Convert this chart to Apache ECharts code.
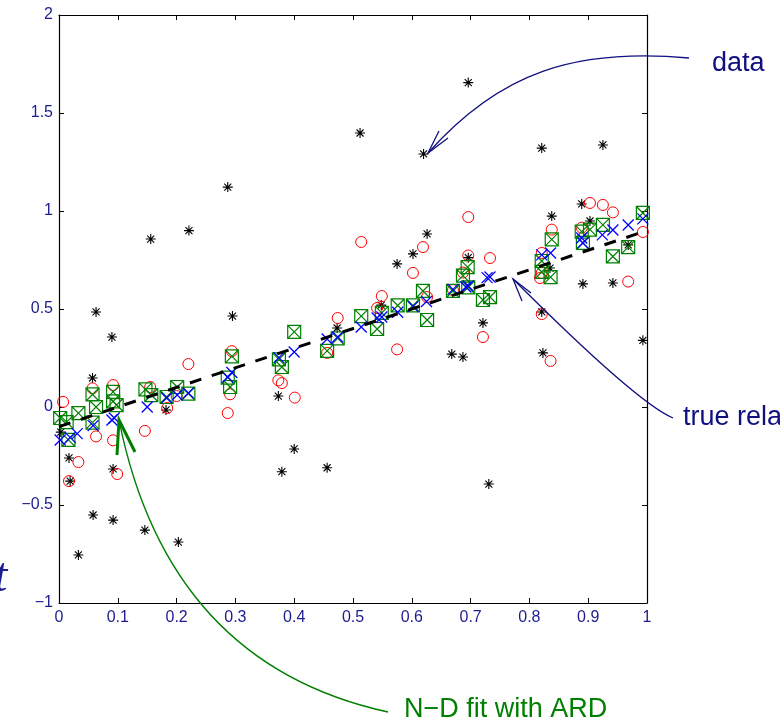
<!DOCTYPE html>
<html>
<head>
<meta charset="utf-8">
<script src="https://cdn.jsdelivr.net/npm/echarts@6/dist/echarts.min.js"></script>
<style>
  html, body { margin: 0; padding: 0; background: #fff; }
  #chart { width: 780px; height: 723px; }
</style>
</head>
<body>
<div id="chart"></div>
<script>
// Observed targets (black asterisks)
const observed = [
  [0.003,-0.128],[0.017,-0.260],[0.019,-0.378],[0.033,-0.755],[0.057,0.148],[0.058,-0.551],
  [0.063,0.485],[0.090,0.357],[0.092,-0.316],[0.092,-0.577],[0.146,-0.628],[0.156,0.857],
  [0.182,-0.015],[0.203,-0.689],[0.221,0.900],[0.287,1.122],[0.295,0.464],[0.373,0.056],
  [0.379,-0.330],[0.400,-0.214],[0.456,-0.310],[0.473,0.403],[0.512,1.398],[0.548,0.520],
  [0.575,0.730],[0.602,0.781],[0.620,1.291],[0.626,0.883],[0.668,0.270],[0.687,0.255],
  [0.696,0.762],[0.696,1.655],[0.721,0.429],[0.731,-0.393],[0.821,0.485],[0.821,1.321],
  [0.823,0.276],[0.835,0.709],[0.838,0.974],[0.889,1.036],[0.891,0.628],[0.903,0.949],
  [0.925,1.337],[0.942,0.633],[0.968,0.827],[0.993,0.340]
];

// Fit without relevance determination (red circles)
const plainFit = [
  [0.007,0.026],[0.017,-0.378],[0.033,-0.281],[0.057,0.095],[0.063,-0.150],[0.092,0.112],
  [0.092,-0.170],[0.099,-0.342],[0.146,-0.122],[0.155,0.102],[0.184,-0.005],[0.200,0.056],
  [0.220,0.219],[0.287,-0.031],[0.291,0.065],[0.294,0.285],[0.373,0.136],[0.379,0.122],
  [0.401,0.048],[0.456,0.276],[0.474,0.454],[0.514,0.842],[0.541,0.505],[0.549,0.566],
  [0.575,0.294],[0.602,0.684],[0.619,0.816],[0.626,0.561],[0.670,0.597],[0.687,0.686],
  [0.696,0.773],[0.696,0.969],[0.721,0.357],[0.733,0.760],[0.818,0.658],[0.821,0.786],
  [0.821,0.474],[0.821,0.684],[0.836,0.235],[0.838,0.905],[0.889,0.915],[0.903,1.041],
  [0.925,1.031],[0.942,0.993],[0.968,0.640],[0.993,0.893]
];

// N-D fit with ARD (green boxed crosses)
const ardFit = [
  [0.002,-0.056],[0.013,-0.077],[0.016,-0.168],[0.033,-0.031],[0.057,0.064],[0.057,-0.080],
  [0.063,0.000],[0.092,0.077],[0.092,0.029],[0.098,0.010],[0.147,0.090],[0.157,0.061],
  [0.183,0.051],[0.201,0.102],[0.220,0.068],[0.287,0.150],[0.291,0.102],[0.294,0.258],
  [0.374,0.243],[0.379,0.204],[0.400,0.383],[0.456,0.286],[0.474,0.350],[0.514,0.464],
  [0.541,0.398],[0.549,0.480],[0.576,0.518],[0.602,0.518],[0.619,0.592],[0.626,0.444],
  [0.670,0.592],[0.687,0.670],[0.695,0.714],[0.696,0.610],[0.721,0.546],[0.733,0.561],
  [0.821,0.745],[0.821,0.689],[0.836,0.663],[0.838,0.855],[0.889,0.895],[0.891,0.837],
  [0.903,0.905],[0.925,0.929],[0.942,0.768],[0.968,0.816],[0.993,0.990]
];

// 1-D fit on the relevant input (blue crosses)
const oneDFit = [
  [0.002,-0.168],[0.019,-0.155],[0.031,-0.136],[0.058,-0.095],[0.090,-0.066],[0.094,-0.056],
  [0.150,0.000],[0.183,0.046],[0.201,0.061],[0.220,0.071],[0.287,0.153],[0.294,0.176],
  [0.374,0.252],[0.400,0.281],[0.456,0.347],[0.474,0.357],[0.514,0.408],[0.541,0.454],
  [0.549,0.459],[0.576,0.483],[0.602,0.512],[0.625,0.538],[0.670,0.600],[0.692,0.612],
  [0.696,0.617],[0.728,0.660],[0.733,0.663],[0.821,0.776],[0.836,0.786],[0.889,0.862],
  [0.891,0.837],[0.924,0.878],[0.942,0.903],[0.968,0.929],[0.993,0.960]
];

// True relation t = x - 0.1
const trueRelation = [[0, -0.1], [1, 0.9]];

const xTickLabels = ['0','0.1','0.2','0.3','0.4','0.5','0.6','0.7','0.8','0.9','1'];
const yTickLabels = ['\u22121','\u22120.5','0','0.5','1','1.5','2'];

const FONT = '"Liberation Sans", Arial, Helvetica, sans-serif';
const NAVY = '#1c1c8e';
const ARROW = '#101080';
const GREEN = '#008000';

const SYM_STAR = 'path://M5,0L5,10M0,5L10,5M1.5,1.5L8.5,8.5M8.5,1.5L1.5,8.5';
const SYM_BOXX = 'path://M0,0L10,0L10,10L0,10ZM0,0L10,10M10,0L0,10';
const SYM_X = 'path://M0,0L10,10M10,0L0,10';

const chart = echarts.init(document.getElementById('chart'), null, { renderer: 'canvas' });

function axisBase(extra) {
  return Object.assign({
    type: 'value',
    axisLine: { show: true, onZero: false, lineStyle: { color: '#000', width: 1.2 } },
    axisTick: { show: true, inside: true, length: 5, lineStyle: { color: '#000', width: 1 } },
    splitLine: { show: false },
    minorTick: { show: false }
  }, extra);
}

const xLabel = v => xTickLabels[Math.round(v * 10)];
const yLabel = v => yTickLabels[Math.round((v + 1) * 2)];

function markerSeries(name, data, symbol, size, color, width, z) {
  return {
    name, type: 'scatter', data, symbol, symbolSize: size, z,
    silent: true,
    itemStyle: { color: 'rgba(0,0,0,0)', borderColor: color, borderWidth: width, opacity: 1 },
    emphasis: { disabled: true }
  };
}

chart.setOption({
  animation: false,
  backgroundColor: '#fff',
  grid: { left: 59, top: 15, right: 133, bottom: 120, containLabel: false },
  xAxis: [
    axisBase({ min: 0, max: 1, interval: 0.1, position: 'bottom',
      axisLabel: { color: NAVY, fontSize: 16, fontFamily: FONT, margin: 7, formatter: xLabel } }),
    axisBase({ min: 0, max: 1, interval: 0.1, position: 'top', axisLabel: { show: false } })
  ],
  yAxis: [
    axisBase({ min: -1, max: 2, interval: 0.5, position: 'left',
      axisLabel: { color: NAVY, fontSize: 16, fontFamily: FONT, margin: 6, formatter: yLabel } }),
    axisBase({ min: -1, max: 2, interval: 0.5, position: 'right', axisLabel: { show: false } })
  ],
  series: [
    markerSeries('data', observed, SYM_STAR, 10, '#000', 1.1, 2),
    markerSeries('plain fit', plainFit, 'circle', 11, '#ff0000', 1, 3),
    markerSeries('N-D fit with ARD', ardFit, SYM_BOXX, 13, GREEN, 1.2, 4),
    markerSeries('1-D fit', oneDFit, SYM_X, 11, '#0000ff', 1.3, 5),
    {
      name: 'true relation', type: 'line', data: trueRelation, z: 6,
      showSymbol: false, symbol: 'none', silent: true,
      lineStyle: { color: '#000', width: 3, type: [12, 11] }
    }
  ],
  graphic: [
    // "data" annotation
    { type: 'bezierCurve', z: 100, silent: true,
      shape: { x1: 689, y1: 58, cpx1: 575, cpy1: 48, cpx2: 500, cpy2: 72, x2: 428, y2: 153 },
      style: { stroke: ARROW, lineWidth: 1.3, fill: null } },
    { type: 'polyline', z: 100, silent: true,
      shape: { points: [[439, 131], [428, 153], [448, 138]] },
      style: { stroke: ARROW, lineWidth: 1.3, fill: null } },
    { type: 'text', z: 100, silent: true, x: 712, y: 64,
      style: { text: 'data', font: '27px ' + FONT, fill: ARROW, align: 'left', verticalAlign: 'middle' } },

    // "true relation" annotation
    { type: 'bezierCurve', z: 100, silent: true,
      shape: { x1: 673, y1: 418, cpx1: 648.7, cpy1: 407.7, cpx2: 595.4, cpy2: 361.4, x2: 513, y2: 279 },
      style: { stroke: ARROW, lineWidth: 1.3, fill: null } },
    { type: 'polyline', z: 100, silent: true,
      shape: { points: [[522, 301], [513, 279], [531, 293]] },
      style: { stroke: ARROW, lineWidth: 1.3, fill: null } },
    { type: 'text', z: 100, silent: true, x: 683, y: 418,
      style: { text: 'true relation', font: '27px ' + FONT, fill: ARROW, align: 'left', verticalAlign: 'middle' } },

    // "N-D fit with ARD" annotation
    { type: 'bezierCurve', z: 100, silent: true,
      shape: { x1: 388, y1: 712, cpx1: 241.3, cpy1: 680, cpx2: 151.7, cpy2: 582.7, x2: 119, y2: 420 },
      style: { stroke: GREEN, lineWidth: 1.3, fill: null } },
    { type: 'polyline', z: 100, silent: true,
      shape: { points: [[117, 455], [119, 420], [135, 452]] },
      style: { stroke: GREEN, lineWidth: 3, fill: null } },
    { type: 'text', z: 100, silent: true, x: 404, y: 710,
      style: { text: 'N\u2212D fit with ARD', font: '27px ' + FONT, fill: GREEN, align: 'left', verticalAlign: 'middle' } },

    // vertical axis symbol
    { type: 'text', z: 100, silent: true, x: -6, y: 578,
      style: { text: 't', font: 'italic 48px "Liberation Serif", "DejaVu Serif", serif', fill: NAVY, align: 'left', verticalAlign: 'middle' } }
  ]
});
</script>
</body>
</html>
